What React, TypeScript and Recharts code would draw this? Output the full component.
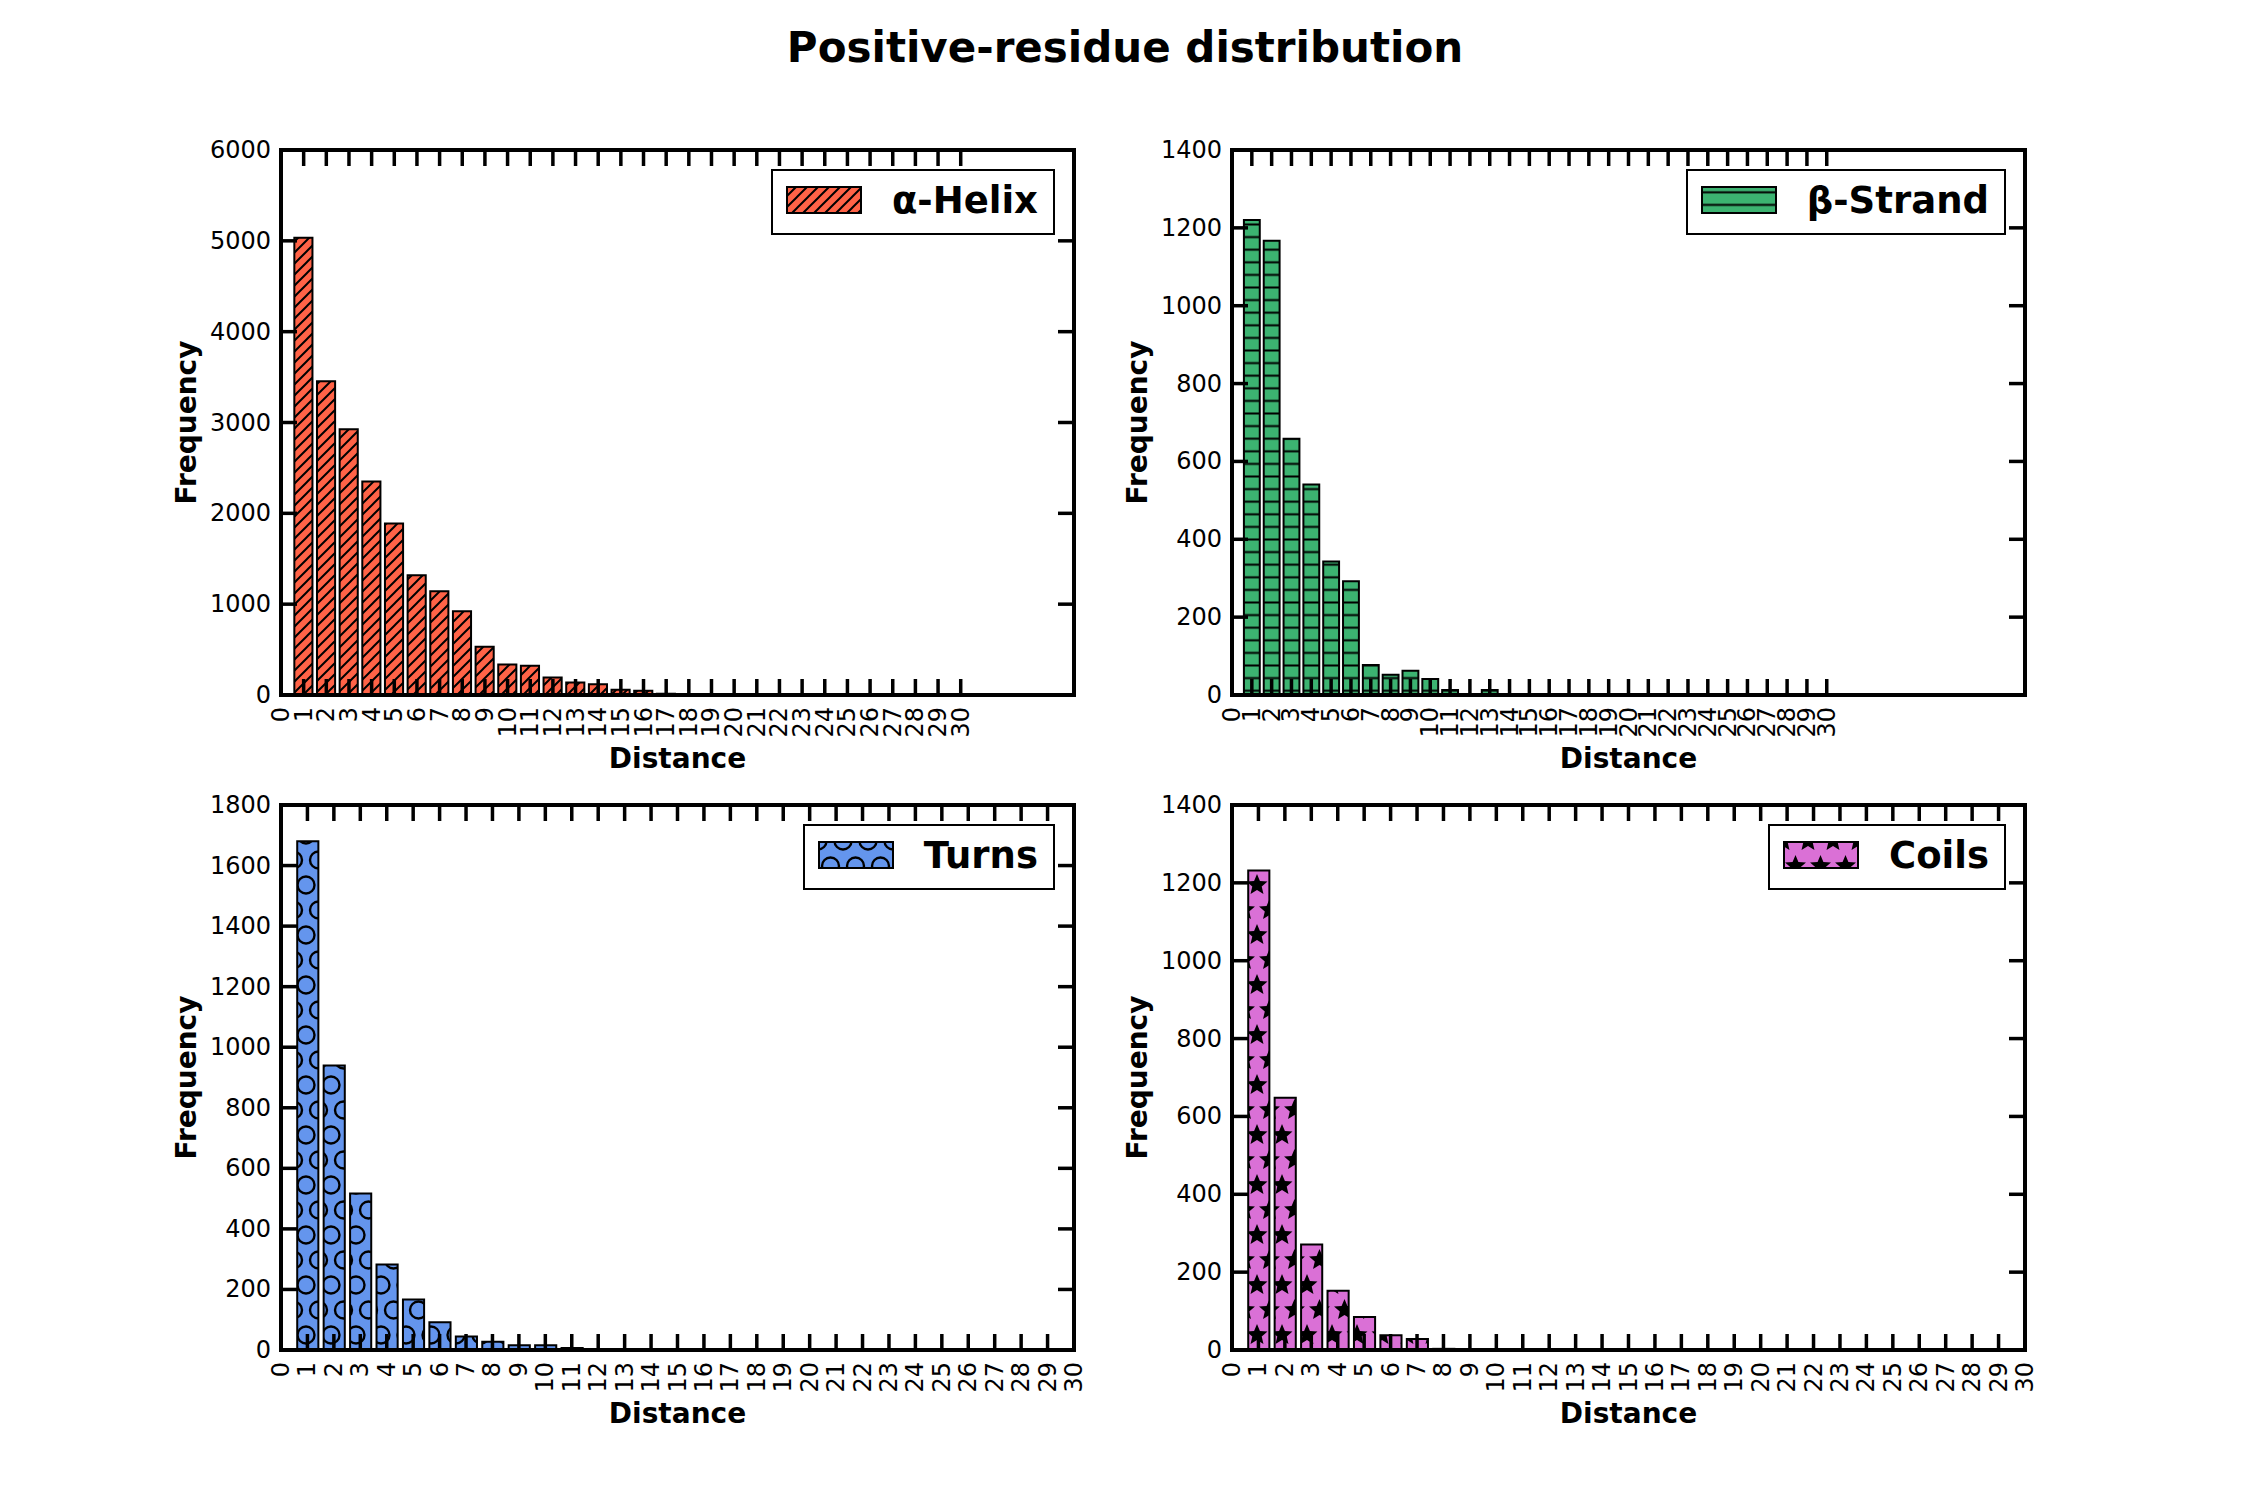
import { BarChart, Bar, XAxis, YAxis, ReferenceLine, Legend } from 'recharts'

const FONT = '"DejaVu Sans", Verdana, sans-serif'

// shared x tick labels (distance)
const distanceTicks = [
  0, 1, 2, 3, 4, 5, 6, 7, 8, 9, 10, 11, 12, 13, 14, 15, 16, 17, 18, 19, 20, 21, 22, 23, 24, 25,
  26, 27, 28, 29, 30,
]

const helixDistance = [1, 2, 3, 4, 5, 6, 7, 8, 9, 10, 11, 12, 13, 14, 15, 16, 17, 18, 19]
const helixFrequency = [
  5035, 3455, 2925, 2350, 1888, 1318, 1142, 922, 532, 335, 322, 193, 138, 117, 58, 46, 14, 5, 8,
]
const helixYTicks = [0, 1000, 2000, 3000, 4000, 5000, 6000]

const strandDistance = [1, 2, 3, 4, 5, 6, 7, 8, 9, 10, 11, 12, 13]
const strandFrequency = [1220, 1167, 658, 541, 343, 292, 77, 52, 62, 41, 13, 0, 13]
const strandYTicks = [0, 200, 400, 600, 800, 1000, 1200, 1400]

const turnsDistance = [1, 2, 3, 4, 5, 6, 7, 8, 9, 10, 11]
const turnsFrequency = [1680, 940, 517, 282, 167, 92, 45, 27, 16, 16, 7]
const turnsYTicks = [0, 200, 400, 600, 800, 1000, 1200, 1400, 1600, 1800]

const coilsDistance = [1, 2, 3, 4, 5, 6, 7, 8]
const coilsFrequency = [1232, 648, 271, 152, 85, 38, 28, 3]
const coilsYTicks = [0, 200, 400, 600, 800, 1000, 1200, 1400]

// plot area geometry (matplotlib subplot grid on a 2250x1500 figure)
const PLOT_W = 793
const PLOT_H = 545
const PAD_L = 150
const PAD_T = 20
const PAD_R = 20
const PAD_B = 110
const TICK_LEN = 16
const TICK_FONT = 24

type HatchKind = 'diag' | 'horiz' | 'circles' | 'stars'

const staggered = [
  [0, 0],
  [25, 0],
  [0, 50],
  [25, 50],
  [12.5, 25],
]

function starPoints(cx: number, cy: number, r: number) {
  return Array.from({ length: 10 }, (_, k) => {
    const a = ((-90 + k * 36) * Math.PI) / 180
    const rr = k % 2 ? r * 0.45 : r
    return `${cx + rr * Math.cos(a)},${cy + rr * Math.sin(a)}`
  }).join(' ')
}

function Hatch({ id, kind, color }: { id: string; kind: HatchKind; color: string }) {
  if (kind === 'diag') {
    const s = 11
    return (
      <pattern id={id} patternUnits="userSpaceOnUse" width={s} height={s}>
        <rect width={s} height={s} fill={color} />
        <path
          d={`M${-s / 4} ${s / 4} L${s / 4} ${-s / 4} M0 ${s} L${s} 0 M${(3 * s) / 4} ${(5 * s) / 4} L${(5 * s) / 4} ${(3 * s) / 4}`}
          stroke="#000"
          strokeWidth={2}
        />
      </pattern>
    )
  }
  if (kind === 'horiz') {
    return (
      <pattern id={id} patternUnits="userSpaceOnUse" width={12.5} height={12.6}>
        <rect width={12.5} height={12.6} fill={color} />
        <line x1={0} y1={6.3} x2={12.5} y2={6.3} stroke="#000" strokeWidth={2} />
      </pattern>
    )
  }
  if (kind === 'circles') {
    return (
      <pattern id={id} patternUnits="userSpaceOnUse" width={25} height={50}>
        <rect width={25} height={50} fill={color} />
        {staggered.map(([cx, cy], i) => (
          <circle key={i} cx={cx} cy={cy} r={8.5} fill="none" stroke="#000" strokeWidth={2.4} />
        ))}
      </pattern>
    )
  }
  return (
    <pattern id={id} patternUnits="userSpaceOnUse" width={25} height={50}>
      <rect width={25} height={50} fill={color} />
      {staggered.map(([cx, cy], i) => (
        <polygon key={i} points={starPoints(cx, cy, 11)} fill="#000" />
      ))}
    </pattern>
  )
}

interface PanelConfig {
  key: string
  label: string
  left: number
  top: number
  xMax: number
  distance: number[]
  frequency: number[]
  yTicks: number[]
  color: string
  hatch: HatchKind
}

const panels: PanelConfig[] = [
  {
    key: 'helix',
    label: 'α-Helix',
    left: 281,
    top: 150,
    xMax: 35,
    distance: helixDistance,
    frequency: helixFrequency,
    yTicks: helixYTicks,
    color: '#ff6347',
    hatch: 'diag',
  },
  {
    key: 'strand',
    label: 'β-Strand',
    left: 1232,
    top: 150,
    xMax: 40,
    distance: strandDistance,
    frequency: strandFrequency,
    yTicks: strandYTicks,
    color: '#3cb371',
    hatch: 'horiz',
  },
  {
    key: 'turns',
    label: 'Turns',
    left: 281,
    top: 805,
    xMax: 30,
    distance: turnsDistance,
    frequency: turnsFrequency,
    yTicks: turnsYTicks,
    color: '#6495ed',
    hatch: 'circles',
  },
  {
    key: 'coils',
    label: 'Coils',
    left: 1232,
    top: 805,
    xMax: 30,
    distance: coilsDistance,
    frequency: coilsFrequency,
    yTicks: coilsYTicks,
    color: '#da70d6',
    hatch: 'stars',
  },
]

function XTick(props: any) {
  const { x, y, payload } = props
  const ly = y + 12
  return (
    <g>
      <line x1={x} y1={y} x2={x} y2={y - TICK_LEN} stroke="#000" strokeWidth={3.5} />
      <line x1={x} y1={y - PLOT_H} x2={x} y2={y - PLOT_H + TICK_LEN} stroke="#000" strokeWidth={3.5} />
      <text
        x={x}
        y={ly}
        transform={`rotate(-90 ${x} ${ly})`}
        textAnchor="end"
        dominantBaseline="central"
        fontFamily={FONT}
        fontSize={TICK_FONT}
        fill="#000"
      >
        {payload.value}
      </text>
    </g>
  )
}

function YTick(props: any) {
  const { x, y, payload } = props
  return (
    <g>
      <line x1={x} y1={y} x2={x + TICK_LEN} y2={y} stroke="#000" strokeWidth={3.5} />
      <line x1={x + PLOT_W} y1={y} x2={x + PLOT_W - TICK_LEN} y2={y} stroke="#000" strokeWidth={3.5} />
      <text
        x={x - 10}
        y={y}
        textAnchor="end"
        dominantBaseline="central"
        fontFamily={FONT}
        fontSize={TICK_FONT}
        fill="#000"
      >
        {payload.value}
      </text>
    </g>
  )
}

function YTitle(props: any) {
  const vb = props.viewBox || { x: 0, y: PAD_T, height: PLOT_H }
  const cx = 55
  const cy = vb.y + vb.height / 2
  return (
    <text
      x={cx}
      y={cy}
      transform={`rotate(-90 ${cx} ${cy})`}
      textAnchor="middle"
      dominantBaseline="central"
      fontFamily={FONT}
      fontWeight="bold"
      fontSize={28}
      fill="#000"
    >
      Frequency
    </text>
  )
}

function LegendBox({ cfg }: { cfg: PanelConfig }) {
  const id = `${cfg.key}-legend-hatch`
  return (
    <div
      style={{
        display: 'flex',
        alignItems: 'center',
        gap: 30,
        height: 66,
        boxSizing: 'border-box',
        padding: '0 15px 0 13px',
        border: '2px solid #000',
        background: '#fff',
      }}
    >
      <svg width={76} height={28} style={{ display: 'block', marginTop: -5 }}>
        <defs>
          <Hatch id={id} kind={cfg.hatch} color={cfg.color} />
        </defs>
        <rect x={1} y={1} width={74} height={26} fill={`url(#${id})`} stroke="#000" strokeWidth={2} />
      </svg>
      <span
        style={{
          fontFamily: FONT,
          fontWeight: 'bold',
          fontSize: 37,
          lineHeight: 1,
          color: '#000',
          marginTop: -4,
        }}
      >
        {cfg.label}
      </span>
    </div>
  )
}

function Panel({ cfg }: { cfg: PanelConfig }) {
  const data = cfg.distance.map((d, i) => ({ distance: d, frequency: cfg.frequency[i] }))
  const yMax = cfg.yTicks[cfg.yTicks.length - 1]
  const barSize = (PLOT_W / cfg.xMax) * 0.8
  const fillId = `${cfg.key}-hatch`

  return (
    <div style={{ position: 'absolute', left: cfg.left - PAD_L, top: cfg.top - PAD_T }}>
      <BarChart
        width={PAD_L + PLOT_W + PAD_R}
        height={PAD_T + PLOT_H + PAD_B}
        data={data}
        margin={{ top: PAD_T, right: PAD_R, bottom: 0, left: 0 }}
      >
        <defs>
          <Hatch id={fillId} kind={cfg.hatch} color={cfg.color} />
        </defs>
        <Bar
          dataKey="frequency"
          fill={`url(#${fillId})`}
          stroke="#000"
          strokeWidth={2}
          barSize={barSize}
          isAnimationActive={false}
        />
        <ReferenceLine y={yMax} stroke="#000" strokeWidth={4} strokeLinecap="square" />
        <ReferenceLine x={cfg.xMax} stroke="#000" strokeWidth={4} strokeLinecap="square" />
        <XAxis
          dataKey="distance"
          type="number"
          domain={[0, cfg.xMax]}
          ticks={distanceTicks}
          interval={0}
          height={PAD_B}
          tickSize={0}
          tickMargin={0}
          tickLine={false}
          axisLine={{ stroke: '#000', strokeWidth: 4, strokeLinecap: 'square' }}
          tick={XTick}
          label={{
            value: 'Distance',
            position: 'insideTop',
            offset: 53,
            fill: '#000',
            fontSize: 28,
            fontWeight: 'bold',
            fontFamily: FONT,
          }}
        />
        <YAxis
          type="number"
          domain={[0, yMax]}
          ticks={cfg.yTicks}
          interval={0}
          width={PAD_L}
          tickSize={0}
          tickMargin={0}
          tickLine={false}
          axisLine={{ stroke: '#000', strokeWidth: 4, strokeLinecap: 'square' }}
          tick={YTick}
          label={<YTitle />}
        />
        <Legend
          layout="vertical"
          align="center"
          verticalAlign="middle"
          wrapperStyle={{ top: PAD_T + 19, right: PAD_R + 19, width: 'auto' }}
          content={() => <LegendBox cfg={cfg} />}
        />
      </BarChart>
    </div>
  )
}

export default function App() {
  return (
    <div style={{ position: 'absolute', left: 0, top: 0, width: 2250, height: 1500, background: '#fff' }}>
      <div
        style={{
          position: 'absolute',
          top: 27,
          left: 0,
          width: 2250,
          textAlign: 'center',
          fontFamily: FONT,
          fontWeight: 'bold',
          fontSize: 42,
          lineHeight: 1,
          color: '#000',
        }}
      >
        Positive-residue distribution
      </div>
      {panels.map((cfg) => (
        <Panel key={cfg.key} cfg={cfg} />
      ))}
    </div>
  )
}
